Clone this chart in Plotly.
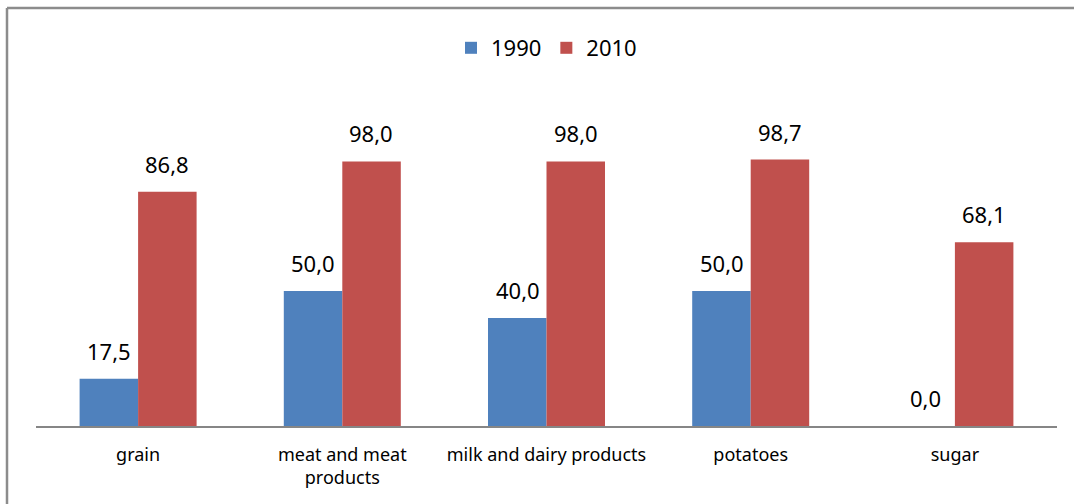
import plotly.graph_objects as go

categories = ["grain", "meat and meat<br>products", "milk and dairy products", "potatoes", "sugar"]
series_names = ["1990", "2010"]
values_1990 = [17.5, 50.0, 40.0, 50.0, 0.0]
values_2010 = [86.8, 98.0, 98.0, 98.7, 68.1]
colors = ["#4F81BD", "#C0504D"]

FONT = "Noto Sans"

fig = go.Figure()
for name, vals, col in zip(series_names, [values_1990, values_2010], colors):
    fig.add_trace(go.Bar(x=categories, y=vals, name=name, marker_color=col,
                         marker_line_width=0))

annotations = []
for i, vals in enumerate([values_1990, values_2010]):
    shift = -29 if i == 0 else 29
    for c, v in zip(categories, vals):
        annotations.append(dict(
            x=c, y=v, xref="x", yref="y", text=f"{v:.1f}".replace(".", ","),
            showarrow=False, yanchor="bottom", xanchor="center",
            xshift=shift, yshift=11,
            font=dict(family=FONT, size=22, color="#000000")))

L, R, T, B = 36, 17, 102, 78
W, H = 1074, 504
pw = W - L - R
ph = H - T - B

border = dict(color="#8C8C8C", width=2.5)
fig.update_layout(
    width=W, height=H,
    margin=dict(l=L, r=R, t=T, b=B, pad=0),
    paper_bgcolor="white", plot_bgcolor="white",
    barmode="group", bargap=0.427, bargroupgap=0,
    font=dict(family=FONT, color="#000000"),
    showlegend=True,
    legend=dict(orientation="h", x=0.5, xanchor="center",
                y=(H - B - 48) / ph, yanchor="middle",
                font=dict(family=FONT, size=22), itemwidth=30,
                traceorder="normal", bgcolor="rgba(0,0,0,0)"),
    annotations=annotations,
    shapes=[
        dict(type="line", xref="paper", yref="paper",
             x0=(7 - L) / pw, x1=(W - L) / pw,
             y0=(H - B - 8) / ph, y1=(H - B - 8) / ph, line=border, layer="below"),
        dict(type="line", xref="paper", yref="paper",
             x0=(7 - L) / pw, x1=(7 - L) / pw,
             y0=-B / ph, y1=(H - B - 8) / ph, line=border, layer="below"),
    ],
)
fig.update_xaxes(showline=True, linecolor="#868686", linewidth=2, ticks="",
                 showgrid=False, tickfont=dict(family=FONT, size=18, color="#000000"),
                 ticklabelstandoff=11)
fig.update_yaxes(range=[0, 120], visible=False, showgrid=False, zeroline=False)

fig.write_html("out.html", config={"displayModeBar": False},
               post_script="document.body.style.margin='0';document.body.style.overflow='hidden';")
